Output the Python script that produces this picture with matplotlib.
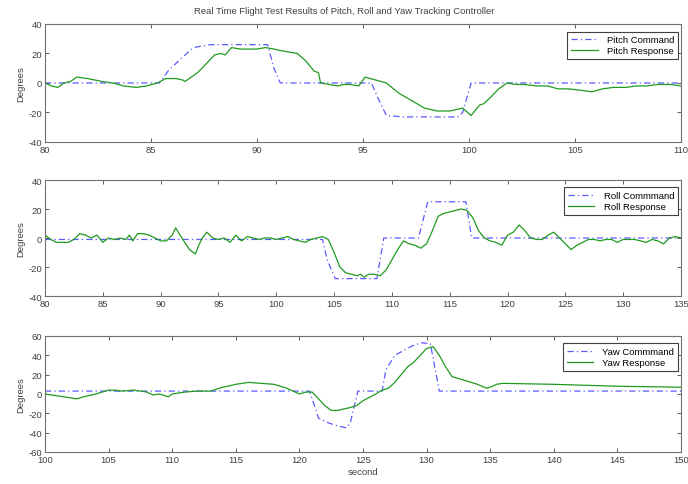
import numpy as np
import matplotlib
matplotlib.use("Agg")
import matplotlib.pyplot as plt

plt.rcParams['font.family'] = ['Liberation Sans', 'DejaVu Sans']
plt.rcParams['axes.unicode_minus'] = False

# pitch (seconds, degrees)
pitch_cmd_t = [80, 85.4, 85.8, 86.3, 87.0, 87.8, 90.5, 90.8, 91.1, 95.4, 95.7, 96.1, 96.9, 99.5, 99.7, 100.1, 110]
pitch_cmd_v = [0, 0, 8, 15, 24, 26, 26, 10, 0, 0, -10, -22, -23, -23, -20, 0, 0]
pitch_rsp_t = [80, 80.3, 80.6, 80.9, 81.2, 81.5, 82.0, 82.7, 83.2, 83.7, 84.3, 84.8, 85.3, 85.7, 86.2,
               86.5, 86.6, 87.2, 87.6, 88.0, 88.3, 88.5, 88.8, 89.2, 89.5, 90.0, 90.4, 90.8, 91.1, 91.5,
               91.9, 92.3, 92.7, 92.9, 93.0, 93.4, 93.8, 94.1, 94.4, 94.8, 95.1, 95.6, 96.1, 96.7, 97.3,
               97.9, 98.5, 99.1, 99.7, 100.1, 100.5, 100.7, 101.0, 101.4, 101.8, 102.2, 102.6, 103.2,
               103.7, 104.2, 104.7, 105.3, 105.8, 106.3, 106.8, 107.4, 107.9, 108.4, 108.9, 109.5, 110]
pitch_rsp_v = [0, -2, -3, 0, 1, 4, 3, 1, 0, -2, -3, -2, 0, 3, 3,
               2, 1, 7, 13, 19, 20, 19, 24, 23, 23, 23, 24, 23, 22, 21,
               20, 15, 8, 7, 0, -1, -2, -1, -1, -2, 4, 2, 0, -7, -12,
               -17, -19, -19, -17, -22, -15, -14, -10, -4, 0, -1, -1, -2,
               -2, -4, -4, -5, -6, -4, -3, -3, -2, -2, -1, -1, -2]

# roll
roll_cmd_t = [80, 104.0, 104.4, 105.1, 108.7, 109.3, 112.3, 113.1, 116.4, 116.9, 135]
roll_cmd_v = [-1, -1, -15, -28, -28, 0, 0, 25, 25, 0, 0]
roll_rsp_t = [80, 80.5, 81, 82, 82.5, 83, 83.5, 84, 84.5, 85, 85.5, 86, 86.5, 87, 87.3, 87.6, 88, 88.5,
              89, 89.5, 90, 90.5, 91, 91.3, 91.6, 92, 92.5, 93, 93.3, 93.6, 94, 94.5, 95, 95.5, 96,
              96.5, 97, 97.5, 98, 98.5, 99, 99.5, 100, 100.5, 101, 101.5, 102, 102.5, 103, 103.5, 104,
              104.5, 105, 105.5, 106, 106.5, 107, 107.3, 107.6, 108, 108.5, 109, 109.5, 110, 110.5, 111,
              111.5, 112, 112.5, 113, 113.5, 114, 114.5, 115, 115.5, 116, 116.5, 117, 117.5, 118, 118.5,
              119, 119.5, 120, 120.5, 121, 121.5, 122, 122.5, 123, 123.5, 124, 124.5, 125, 125.5, 126,
              126.5, 127, 127.5, 128, 128.5, 129, 129.5, 130, 130.5, 131, 131.5, 132, 132.5, 133, 133.5,
              134, 134.5, 135]
roll_rsp_v = [2, -1, -3, -3, -1, 3, 2, 0, 2, -3, 0, -1, 0, -1, 2, -2, 3, 3,
              2, 0, -2, -2, 2, 7, 3, -2, -8, -11, -5, 0, 4, 0, -1, 0, -3,
              2, -2, 1, 0, -1, 0, 0, -1, 0, 1, -1, -2, -3, -1, 0, 1,
              -1, -10, -20, -24, -25, -26, -25, -27, -25, -25, -26, -22, -15, -8, -2,
              -4, -5, -7, -4, 5, 15, 17, 18, 19, 20, 19, 14, 5, 0, -2,
              -3, -5, 2, 4, 9, 5, 0, -1, -1, 2, 4, 0, -4, -8, -5,
              -3, -1, -1, -2, -1, -1, -3, -1, -1, -1, -2, -3, -1, -2, -4,
              0, 1, 0]

# yaw
yaw_cmd_t = [100, 120.8, 121.5, 122.3, 123.0, 123.7, 124.0, 124.6, 126.5, 126.8, 127.5, 128.2, 128.9,
             129.6, 130.3, 130.4, 131.0, 150]
yaw_cmd_v = [3, 3, -25, -30, -33, -35, -30, 3, 3, 25, 40, 45, 50, 53, 52, 45, 3, 3]
yaw_rsp_t = [100, 101, 102, 102.5, 103, 104, 105, 105.5, 106, 107, 108, 108.5, 109, 109.7, 110, 111,
             112, 113, 114, 115, 116, 117, 118, 119, 119.5, 120, 120.5, 121, 121.5, 122, 122.5, 123,
             124, 124.5, 125, 126, 126.5, 127, 127.5, 128, 128.5, 129, 129.5, 130, 130.5, 131, 131.5,
             132, 133, 134, 134.7, 135, 135.5, 136, 140, 145, 150]
yaw_rsp_v = [0, -2, -4, -5, -3, 0, 4, 4, 3, 4, 2, -1, 0, -3, 0, 2,
             3, 3, 7, 10, 12, 11, 10, 6, 3, 0, 2, 2, -5, -12, -17, -17,
             -14, -12, -7, 0, 4, 6, 12, 20, 28, 33, 40, 47, 49, 40, 28,
             18, 14, 10, 6, 7, 10, 11, 10, 8, 7]

cmd_color = '#5a5aff'
rsp_color = '#1f9a1f'
edge = '#707070'
txt = '#404040'

fig = plt.figure(figsize=(6.88, 4.85), dpi=100)
boxes = [[0.0654, 0.7052, 0.9244, 0.2433],
         [0.0654, 0.3876, 0.9244, 0.2392],
         [0.0654, 0.0660, 0.9244, 0.2392]]

panels = [
    (pitch_cmd_t, pitch_cmd_v, pitch_rsp_t, pitch_rsp_v, 'Pitch Command', 'Pitch Response',
     (80, 110), np.arange(80, 111, 5), (-40, 40), np.arange(-40, 41, 20)),
    (roll_cmd_t, roll_cmd_v, roll_rsp_t, roll_rsp_v, 'Roll Commmand', 'Roll Response',
     (80, 135), np.arange(80, 136, 5), (-40, 40), np.arange(-40, 41, 20)),
    (yaw_cmd_t, yaw_cmd_v, yaw_rsp_t, yaw_rsp_v, 'Yaw Commmand', 'Yaw Response',
     (100, 150), np.arange(100, 151, 5), (-60, 60), np.arange(-60, 61, 20)),
]

for box, (ct, cv, rt, rv, lc, lr, xl, xt, yl, yt) in zip(boxes, panels):
    ax = fig.add_axes(box)
    ax.plot(ct, cv, color=cmd_color, lw=0.9, label=lc, dashes=[5, 2.5, 1, 2.5])
    ax.plot(rt, rv, '-', color=rsp_color, lw=0.9, label=lr)
    ax.set_xlim(*xl)
    ax.set_ylim(*yl)
    ax.set_xticks(xt)
    ax.set_yticks(yt)
    ax.tick_params(direction='in', top=True, right=True, length=3, width=0.6,
                   labelsize=6.8, colors=txt, pad=2)
    for s in ax.spines.values():
        s.set_color(edge)
        s.set_linewidth(0.8)
    ax.set_ylabel('Degrees', fontsize=6.8, color=txt, labelpad=2)
    leg = ax.legend(loc='upper right', bbox_to_anchor=(1.0, 0.96), fontsize=6.8,
                    fancybox=False, framealpha=1, borderaxespad=0.3, handlelength=2.8,
                    labelspacing=0.2, borderpad=0.4, handletextpad=1.0)
    leg.get_frame().set_edgecolor('#404040')
    leg.get_frame().set_linewidth(0.8)
    if xl[0] == 100:
        ax.set_xlabel('second', fontsize=6.8, color=txt, labelpad=2)

fig.text(0.5, 0.977, 'Real Time Flight Test Results of Pitch, Roll and Yaw Tracking Controller',
         ha='center', va='center', fontsize=6.8, color=txt)

fig.savefig('out.png', dpi=100)
